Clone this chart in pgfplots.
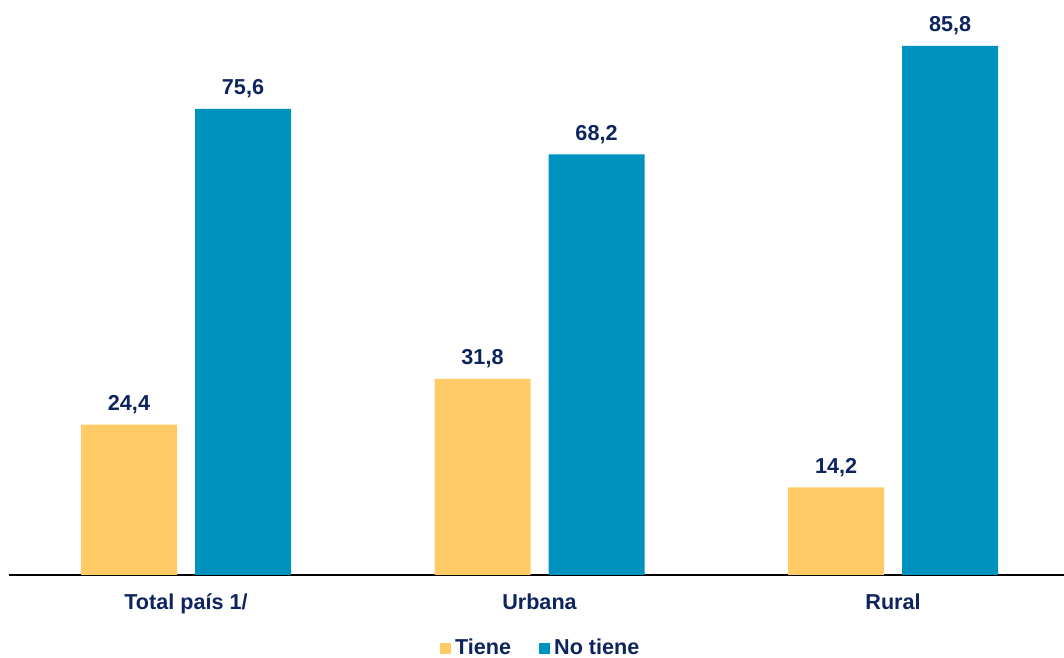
\documentclass[border=0pt]{standalone}
\usepackage{pgfplots}
\pgfplotsset{compat=1.18}
\usepackage{fontspec}
\setmainfont{Liberation Sans}
\definecolor{cyel}{HTML}{FFCB66}
\definecolor{cblu}{HTML}{0092BF}
\definecolor{cnavy}{HTML}{0E245F}
\begin{document}
\begin{tikzpicture}
\begin{axis}[
  name=ax,
  scale only axis,
  width=527.5pt, height=287.5pt,
  xmin=-0.5007, xmax=2.4837,
  ymin=0, ymax=93.25,
  axis x line*=bottom,
  axis y line=none,
  x axis line style={black, line width=1pt, -},
  xtick={0,1,2},
  xticklabels={Total país 1/, Urbana, Rural},
  major tick length=0pt,
  xticklabel style={font=\fontsize{10.8}{13}\selectfont\bfseries, text=cnavy, yshift=-6pt},
  ybar, bar width=48pt,
  nodes near coords,
  nodes near coords style={font=\fontsize{10.8}{13}\selectfont\bfseries, text=cnavy, yshift=2pt},
  /pgf/number format/.cd, use comma, fixed, fixed zerofill, precision=1, assume math mode=true,
  /pgfplots/.cd,
  legend style={at={(axis description cs:0.505,-0.127)}, anchor=center, draw=none, legend columns=2,
    font=\fontsize{10.8}{13}\selectfont\bfseries, text=cnavy,
    /tikz/every even column/.append style={column sep=12pt}, inner sep=0pt},
  legend image code/.code={\fill[#1] (0pt,-2.75pt) rectangle (5.5pt,2.75pt);},
]
\addplot[fill=cyel, draw=none, bar shift=-28.5pt] coordinates {(0,24.4) (1,31.8) (2,14.2)};
\addplot[fill=cblu, draw=none, bar shift=28.5pt] coordinates {(0,75.6) (1,68.2) (2,85.8)};
\legend{Tiene, No tiene}
\end{axis}
\pgfresetboundingbox
\useasboundingbox ([xshift=-4.5pt,yshift=-41.5pt]ax.south west) rectangle (ax.north east);
\end{tikzpicture}
\end{document}
